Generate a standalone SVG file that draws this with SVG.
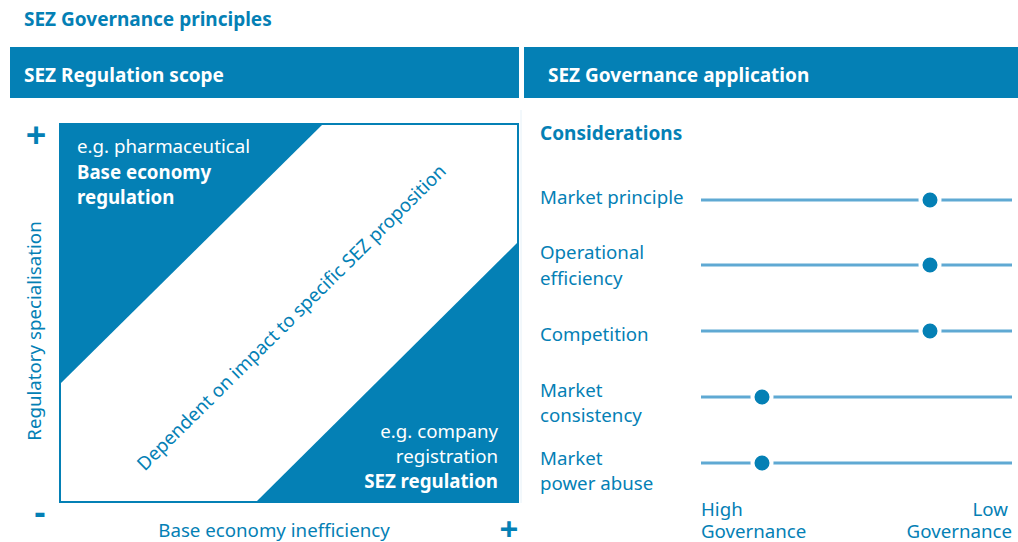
<svg xmlns="http://www.w3.org/2000/svg" width="1018" height="542" viewBox="0 0 1018 542">
<style>
text{font-family:"Noto Sans","Liberation Sans",sans-serif;}
.b{fill:#0480b5;}
.w{fill:#ffffff;}
.bold{font-weight:bold;}
.lbl{font-size:18.7px;fill:#0480b5;}
.trk{stroke:#5fa9d3;stroke-width:3;fill:none;}
.dot{fill:#0480b5;stroke:#ffffff;stroke-width:4;}
.sign{fill:#0480b5;font-weight:bold;text-anchor:middle;}
</style>
<rect width="1018" height="542" fill="#ffffff"/>
<g id="title"><text x="24" y="26" class="b bold" font-size="19">SEZ Governance principles</text></g>
<g id="header-left">
<rect x="10" y="47" width="509" height="51" fill="#0480b5"/>
<text x="24" y="82" class="w bold" font-size="19">SEZ Regulation scope</text>
</g>
<g id="header-right">
<rect x="524" y="47" width="494" height="51" fill="#0480b5"/>
<text x="548" y="82" class="w bold" font-size="19">SEZ Governance application</text>
</g>
<line x1="521" y1="110" x2="521" y2="503" stroke="#e6f1f8" stroke-width="1"/>
<g id="matrix">
<rect x="60" y="124" width="458" height="378" fill="#ffffff" stroke="#0480b5" stroke-width="2"/>
<polygon points="59,123 324,123 59,385" fill="#0480b5"/>
<polygon points="519,241 519,503 255,503" fill="#0480b5"/>
<text class="lbl" text-anchor="middle" transform="translate(296,322) rotate(-44.7)">Dependent on impact to specific SEZ proposition</text>
</g>
<g id="top-triangle-label" class="w" font-size="18.7">
<text x="77" y="153">e.g. pharmaceutical</text>
<text x="77" y="179" class="bold">Base economy</text>
<text x="77" y="204" class="bold">regulation</text>
</g>
<g id="bottom-triangle-label" class="w" font-size="18.7" text-anchor="end">
<text x="498" y="438">e.g. company</text>
<text x="498" y="463">registration</text>
<text x="498" y="488" class="bold">SEZ regulation</text>
</g>
<g id="axes">
<text x="36" y="148" class="sign" font-size="36">+</text>
<text x="40" y="524" class="sign" font-size="34">-</text>
<text x="509" y="541" class="sign" font-size="33">+</text>
<text class="lbl" text-anchor="middle" transform="translate(41,331) rotate(-90)">Regulatory specialisation</text>
<text x="274" y="537" class="lbl" text-anchor="middle">Base economy inefficiency</text>
</g>
<g id="considerations">
<text x="540" y="140" class="b bold" font-size="19">Considerations</text>
</g>
<g id="connectors">
<line x1="701" y1="200" x2="1012" y2="200" class="trk"/>
<line x1="701" y1="265" x2="1012" y2="265" class="trk"/>
<line x1="701" y1="331" x2="1012" y2="331" class="trk"/>
<line x1="701" y1="397" x2="1012" y2="397" class="trk"/>
<line x1="701" y1="463" x2="1012" y2="463" class="trk"/>
</g>
<g id="row-market-principle">
<text x="540" y="204" class="lbl">Market principle</text>
<circle cx="930" cy="200" r="9.5" class="dot"/>
</g>
<g id="row-operational-efficiency">
<text x="540" y="259" class="lbl">Operational</text>
<text x="540" y="285" class="lbl">efficiency</text>
<circle cx="930" cy="265" r="9.5" class="dot"/>
</g>
<g id="row-competition">
<text x="540" y="341" class="lbl">Competition</text>
<circle cx="930" cy="331" r="9.5" class="dot"/>
</g>
<g id="row-market-consistency">
<text x="540" y="397" class="lbl">Market</text>
<text x="540" y="422" class="lbl">consistency</text>
<circle cx="762" cy="397" r="9.5" class="dot"/>
</g>
<g id="row-market-power-abuse">
<text x="540" y="465" class="lbl">Market</text>
<text x="540" y="490" class="lbl">power abuse</text>
<circle cx="762" cy="463" r="9.5" class="dot"/>
</g>
<g id="scale">
<text x="701" y="516" class="lbl">High</text>
<text x="701" y="538" class="lbl">Governance</text>
<text x="1008" y="516" class="lbl" text-anchor="end">Low</text>
<text x="1012" y="538" class="lbl" text-anchor="end">Governance</text>
</g>
</svg>
